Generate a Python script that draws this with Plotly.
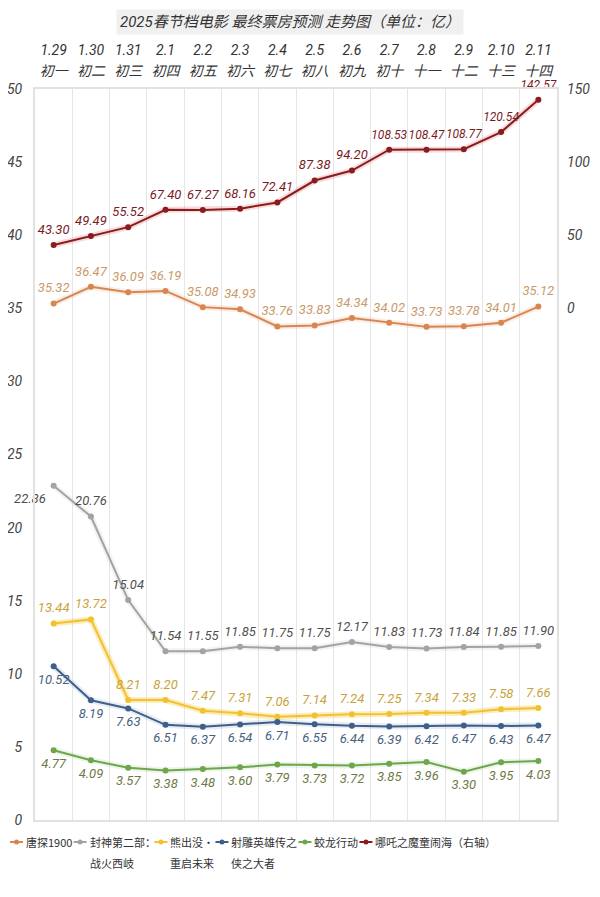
import plotly.graph_objects as go

dates = ["1.29", "1.30", "1.31", "2.1", "2.2", "2.3", "2.4", "2.5", "2.6", "2.7", "2.8", "2.9", "2.10", "2.11"]
lunar = ["初一", "初二", "初三", "初四", "初五", "初六", "初七", "初八", "初九", "初十", "十一", "十二", "十三", "十四"]

tangtan = [35.32, 36.47, 36.09, 36.19, 35.08, 34.93, 33.76, 33.83, 34.34, 34.02, 33.73, 33.78, 34.01, 35.12]
fengshen = [22.86, 20.76, 15.04, 11.54, 11.55, 11.85, 11.75, 11.75, 12.17, 11.83, 11.73, 11.84, 11.85, 11.90]
xiongchumo = [13.44, 13.72, 8.21, 8.20, 7.47, 7.31, 7.06, 7.14, 7.24, 7.25, 7.34, 7.33, 7.58, 7.66]
shediao = [10.52, 8.19, 7.63, 6.51, 6.37, 6.54, 6.71, 6.55, 6.44, 6.39, 6.42, 6.47, 6.43, 6.47]
jiaolong = [4.77, 4.09, 3.57, 3.38, 3.48, 3.60, 3.79, 3.73, 3.72, 3.85, 3.96, 3.30, 3.95, 4.03]
nezha = [43.30, 49.49, 55.52, 67.40, 67.27, 68.16, 72.41, 87.38, 94.20, 108.53, 108.47, 108.77, 120.54, 142.57]

names = ["唐探1900", "封神第二部：<br>战火西岐", "熊出没·<br>重启未来", "射雕英雄传之<br>侠之大者", "蛟龙行动", "哪吒之魔童闹海（右轴）"]

x = list(range(len(dates)))
NUM_FONT = "Roboto, sans-serif"
CJK_FONT = "Noto Sans CJK SC, sans-serif"
MIX_FONT = "Roboto, Noto Sans CJK SC, sans-serif"

# page has an 8px body margin, so the figure is 8px smaller than the window
OFF = 8
W, H = 600 - OFF, 897 - OFF
ML, MR, MT, MB = 35 - OFF, 43, 89 - OFF, 77
PW, PH = W - ML - MR, H - MT - MB


def px_x(p):  # reference page pixel -> paper x
    return (p - OFF - ML) / PW


def px_y(p):  # reference page pixel -> paper y
    return (H - MB - (p - OFF)) / PH


fig = go.Figure()

series = [
    (tangtan, names[0], "#d8864f", "#c99a6a", "top center", "y", "rgba(216,134,79,0.15)"),
    (fengshen, names[1], "#a3a3a3", "#4f4f4f", ["bottom left"] + ["top center"] * 13, "y", "rgba(160,160,160,0.12)"),
    (xiongchumo, names[2], "#f2c22e", "#c9a23a", "top center", "y", "rgba(242,194,46,0.3)"),
    (shediao, names[3], "#3d5f8c", "#4a5f7e", "bottom center", "y", "rgba(61,95,140,0.12)"),
    (jiaolong, names[4], "#6ea64c", "#6e7a48", "bottom center", "y", "rgba(110,166,76,0.12)"),
    (nezha, names[5], "#8a1c1f", "#7a1a1f", "top center", "y2", "rgba(220,80,80,0.2)"),
]

# soft glow under each line
for vals, nm, col, tcol, tpos, ax, glow in series:
    fig.add_trace(go.Scatter(
        x=x, y=vals, mode="lines", yaxis=ax, showlegend=False, hoverinfo="skip",
        line=dict(color=glow, width=6)))

# lines with markers
for vals, nm, col, tcol, tpos, ax, glow in series:
    fig.add_trace(go.Scatter(
        x=x, y=vals, name=nm, yaxis=ax, mode="lines+markers", showlegend=False,
        line=dict(color=col, width=2), marker=dict(color=col, size=6)))

# value labels (invisible larger markers push the text a bit further from the points)
for vals, nm, col, tcol, tpos, ax, glow in series:
    fig.add_trace(go.Scatter(
        x=x, y=vals, yaxis=ax, mode="markers+text", showlegend=False, hoverinfo="skip",
        marker=dict(color=col, size=11, opacity=0),
        text=[f"{v:.2f}" for v in vals], textposition=tpos,
        textfont=dict(family=NUM_FONT, size=[12 if v >= 100 else 13 for v in vals],
                      color=tcol, style="italic"),
        cliponaxis=False))

# dummy trace on xaxis2 so the date row renders
fig.add_trace(go.Scatter(x=[0], y=[0], xaxis="x2", mode="markers", marker=dict(opacity=0),
                         showlegend=False, hoverinfo="skip"))


def text_w(s, size):
    w = 0
    for ch in s:
        if ord(ch) < 128:
            w += 0.56 * size
        elif ch == "·":
            w += 0.35 * size
        elif ch in "：（）":
            w += 0.8 * size
        else:
            w += size
    return w


# compact manual legend, laid out left to right like the reference
annotations = []
LEG_SIZE = 11
row1_y, row2_y = 842, 863
sx = 10
for i, (vals, nm, col, tcol, tpos, ax, glow) in enumerate(series):
    fig.add_shape(type="line", xref="paper", yref="paper", x0=px_x(sx), x1=px_x(sx + 13),
                  y0=px_y(row1_y), y1=px_y(row1_y), line=dict(color=col, width=2))
    fig.add_shape(type="circle", xref="paper", yref="paper",
                  x0=px_x(sx + 6.5 - 2.5), x1=px_x(sx + 6.5 + 2.5),
                  y0=px_y(row1_y + 2.5), y1=px_y(row1_y - 2.5),
                  fillcolor=col, line=dict(width=0))
    lines = nm.split("<br>")
    for j, line in enumerate(lines):
        annotations.append(dict(
            text=line, xref="paper", yref="paper",
            x=px_x(sx + 14), y=px_y(row1_y if j == 0 else row2_y), xanchor="left", yanchor="middle",
            showarrow=False, font=dict(family=CJK_FONT, size=LEG_SIZE, color="#333")))
    sx = sx + 14 + max(text_w(l, LEG_SIZE) for l in lines) + 3

annotations.append(dict(text="2025春节档电影 最终票房预测 走势图（单位：亿）", xref="paper", yref="paper",
                        x=px_x(290), y=px_y(22), xanchor="center", yanchor="middle", showarrow=False,
                        font=dict(family=MIX_FONT, size=15, color="#333", style="italic"),
                        bgcolor="#f0f0f0", borderpad=3))

fig.update_layout(
    width=W, height=H,
    margin=dict(l=ML, r=MR, t=MT, b=MB, autoexpand=False),
    paper_bgcolor="white", plot_bgcolor="white",
    showlegend=False,
    xaxis=dict(side="top", range=[-0.5, 13.5], tickvals=x, ticktext=lunar, automargin=False,
               tickfont=dict(family=MIX_FONT, size=14, color="#333", style="italic"),
               showgrid=False, zeroline=False, ticks="", ticklabelstandoff=5,
               showline=True, mirror=True, linecolor="#e2e2e2", linewidth=2,
               minor=dict(tickvals=[i + 0.5 for i in range(13)], showgrid=True,
                          gridcolor="#e6e6e6", gridwidth=1, ticks="")),
    xaxis2=dict(side="top", range=[-0.5, 13.5], tickvals=x, ticktext=dates, overlaying="x",
                automargin=False, anchor="y",
                tickfont=dict(family=NUM_FONT, size=14, color="#333", style="italic"),
                showgrid=False, zeroline=False, ticks="", ticklabelstandoff=30, showline=False),
    yaxis=dict(range=[0, 50], tickvals=[0, 5, 10, 15, 20, 25, 30, 35, 40, 45, 50], automargin=False,
               showgrid=False, zeroline=False, ticks="", ticklabelstandoff=8,
               tickfont=dict(family=NUM_FONT, size=14, color="#444", style="italic"),
               showline=True, mirror=True, linecolor="#e2e2e2", linewidth=2),
    yaxis2=dict(range=[-350, 150], tickvals=[0, 50, 100, 150], overlaying="y", side="right",
                showgrid=False, zeroline=False, ticks="", automargin=False, ticklabelstandoff=9,
                tickfont=dict(family=NUM_FONT, size=14, color="#444", style="italic")),
    annotations=annotations,
)

fig.write_html("out.html")
